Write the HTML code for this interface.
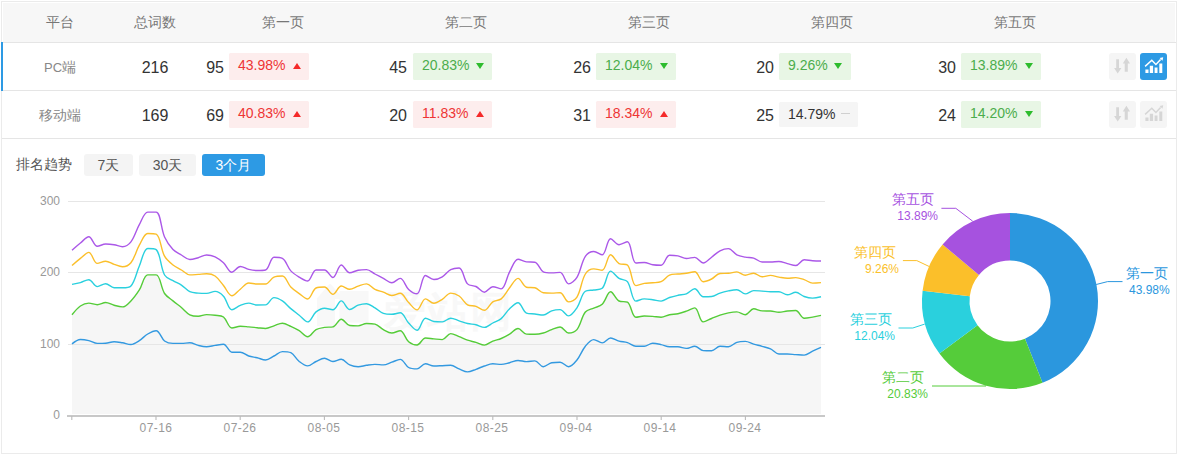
<!DOCTYPE html>
<html><head><meta charset="utf-8">
<style>
*{margin:0;padding:0;box-sizing:border-box}
html,body{width:1178px;height:454px;overflow:hidden;background:#fff;font-family:"Liberation Sans",sans-serif}
.abs{position:absolute}
#frame{position:absolute;left:1px;top:1px;width:1176px;height:453px;border:1px solid #ebebeb}
#hdr{position:absolute;left:3px;top:3px;width:1172px;height:39px;background:#f7f7f7}
.hl{position:absolute;left:2px;width:1174px;height:1px;background:#e5e5e5}
.ht{position:absolute;top:14px;font-size:14px;color:#777;line-height:16px;white-space:nowrap;transform:translateX(-50%)}
.pf{position:absolute;font-size:14px;color:#888;line-height:16px;white-space:nowrap;transform:translateX(-50%)}
.tot{position:absolute;font-size:16px;color:#333;line-height:20px;white-space:nowrap;transform:translateX(-50%)}
.num{position:absolute;font-size:16px;color:#333;line-height:20px;white-space:nowrap;text-align:right;width:40px}
.bd{position:absolute;height:27px;border-radius:1.5px;font-size:14px;line-height:24px;white-space:nowrap;padding-left:9px}
.bd.up{background:#fdeded;color:#ee3535}
.bd.dn{background:#e8f6e5;color:#4cad4c}
.bd.eq{background:#f5f5f5;color:#333}
.tri{position:absolute;top:10px;width:0;height:0;border-left:4.5px solid transparent;border-right:4.5px solid transparent}
.up .tri{border-bottom:6px solid #f52a2a}
.dn .tri{border-top:6px solid #2ebc2e}
.eq .tri{top:11px;width:9px;height:1.3px;background:#d0d0d0;border:0}
.ib{position:absolute;width:27px;height:27px;border-radius:3px;background:#f5f5f5}
.ib.on{background:#2d9ae4}
.tb{position:absolute;top:154px;height:22px;border-radius:3px;background:#f4f4f4;color:#555;font-size:14px;line-height:22px;text-align:center}
.tb.on{background:#2d9ae4;color:#fff}
.yl{position:absolute;font-size:12px;color:#999;line-height:14px;text-align:right;width:40px;left:20px}
.xl{position:absolute;top:421px;font-size:12px;color:#999;line-height:14px;white-space:nowrap;letter-spacing:0.45px;transform:translateX(-50%)}
.pl{position:absolute;font-size:14px;line-height:16px;white-space:nowrap}
.pp{position:absolute;font-size:12px;line-height:14px;white-space:nowrap}
</style></head><body>
<div id="frame"></div>
<div id="hdr"></div>
<div class="hl" style="top:42px"></div>
<div class="hl" style="top:90px"></div>
<div class="hl" style="top:138px"></div>
<div class="abs" style="left:1px;top:42px;width:2px;height:49px;background:#2d9ae4"></div>

<div class="ht" style="left:60px">平台</div>
<div class="ht" style="left:155px">总词数</div>
<div class="ht" style="left:283px">第一页</div>
<div class="ht" style="left:466px">第二页</div>
<div class="ht" style="left:649px">第三页</div>
<div class="ht" style="left:832px">第四页</div>
<div class="ht" style="left:1015px">第五页</div>

<!-- row 1 -->
<div class="pf" style="left:60px;top:59px"><span style="font-size:13px">PC</span>端</div>
<div class="tot" style="left:155px;top:58px">216</div>
<div class="num" style="left:184px;top:58px">95</div>
<div class="bd up" style="left:229px;top:53px;width:80px">43.98%<i class="tri" style="left:64px"></i></div>
<div class="num" style="left:367px;top:58px">45</div>
<div class="bd dn" style="left:413px;top:53px;width:79px">20.83%<i class="tri" style="left:63px"></i></div>
<div class="num" style="left:551px;top:58px">26</div>
<div class="bd dn" style="left:596px;top:53px;width:80px">12.04%<i class="tri" style="left:64px"></i></div>
<div class="num" style="left:734px;top:58px">20</div>
<div class="bd dn" style="left:779px;top:53px;width:72px">9.26%<i class="tri" style="left:55px"></i></div>
<div class="num" style="left:916px;top:58px">30</div>
<div class="bd dn" style="left:961px;top:53px;width:80px">13.89%<i class="tri" style="left:64px"></i></div>
<div class="ib" style="left:1109px;top:53px"><svg width="27" height="27" viewBox="1109 53 27 27" style="position:absolute;left:0;top:0"><path d="M1116.2,59.3H1119V68H1121.4L1117.7,73.5L1114.1,68H1116.2Z M1126.4,57.7L1130,63.5H1127.8V71.8H1124.7V63.5H1122.8Z" fill="#d6d6d6"/></svg></div>
<div class="ib on" style="left:1140px;top:53px"><svg width="27" height="27" viewBox="1140 53 27 27" style="position:absolute;left:0;top:0"><path d="M1145.4,69.6h3.1v3.5h-3.1Z M1149.8,65.7h3.3v7.4h-3.3Z M1154.6,67.6h2.9v5.5h-2.9Z M1159.3,63.5h3v9.6h-3Z" fill="#fff"/><path d="M1145.1,66.4L1151.8,60.3L1155.9,64.5L1160.6,59.4" fill="none" stroke="#fff" stroke-width="1.5"/><path d="M1163.2,57.2L1159.6,57.9L1162.5,60.8Z" fill="#fff"/></svg></div>

<!-- row 2 -->
<div class="pf" style="left:60px;top:107px">移动端</div>
<div class="tot" style="left:155px;top:106px">169</div>
<div class="num" style="left:184px;top:106px">69</div>
<div class="bd up" style="left:229px;top:101px;width:80px">40.83%<i class="tri" style="left:64px"></i></div>
<div class="num" style="left:367px;top:106px">20</div>
<div class="bd up" style="left:413px;top:101px;width:79px">11.83%<i class="tri" style="left:63px"></i></div>
<div class="num" style="left:551px;top:106px">31</div>
<div class="bd up" style="left:596px;top:101px;width:80px">18.34%<i class="tri" style="left:64px"></i></div>
<div class="num" style="left:734px;top:106px">25</div>
<div class="bd eq" style="left:779px;top:102px;width:79px;height:25px">14.79%<i class="tri" style="left:62px"></i></div>
<div class="num" style="left:916px;top:106px">24</div>
<div class="bd dn" style="left:961px;top:101px;width:80px">14.20%<i class="tri" style="left:64px"></i></div>
<div class="ib" style="left:1109px;top:101px"><svg width="27" height="27" viewBox="1109 53 27 27" style="position:absolute;left:0;top:0"><path d="M1116.2,59.3H1119V68H1121.4L1117.7,73.5L1114.1,68H1116.2Z M1126.4,57.7L1130,63.5H1127.8V71.8H1124.7V63.5H1122.8Z" fill="#d6d6d6"/></svg></div>
<div class="ib" style="left:1140px;top:101px"><svg width="27" height="27" viewBox="1140 53 27 27" style="position:absolute;left:0;top:0"><path d="M1145.4,69.6h3.1v3.5h-3.1Z M1149.8,65.7h3.3v7.4h-3.3Z M1154.6,67.6h2.9v5.5h-2.9Z M1159.3,63.5h3v9.6h-3Z" fill="#d6d6d6"/><path d="M1145.1,66.4L1151.8,60.3L1155.9,64.5L1160.6,59.4" fill="none" stroke="#d6d6d6" stroke-width="1.5"/><path d="M1163.2,57.2L1159.6,57.9L1162.5,60.8Z" fill="#d6d6d6"/></svg></div>

<!-- controls -->
<div class="abs" style="left:16px;top:156px;font-size:14px;line-height:16px;color:#555">排名趋势</div>
<div class="tb" style="left:84px;width:49px">7天</div>
<div class="tb" style="left:139px;width:57px">30天</div>
<div class="tb on" style="left:202px;width:63px">3个月</div>

<!-- CHART -->
<svg class="abs" style="left:0;top:0" width="1178" height="454" id="chart">
<path d="M72.00,314.80C72.00,314.80 77.01,308.37 80.42,306.00C82.90,304.27 85.83,303.10 88.83,303.10C91.72,303.10 94.32,304.70 97.25,304.70C100.22,304.70 102.75,302.50 105.66,302.50C108.64,302.50 111.08,304.52 114.08,305.30C116.97,306.06 119.82,306.90 122.49,306.90C125.72,306.90 128.39,303.44 130.91,300.90C134.28,297.49 136.70,293.96 139.33,289.90C142.59,284.86 143.79,274.90 147.74,274.90C149.68,274.90 154.44,274.90 156.16,274.90C160.33,274.90 160.77,287.62 164.57,293.50C166.66,296.72 169.97,298.39 172.99,300.90C175.87,303.29 178.52,305.12 181.40,307.50C184.41,309.98 186.49,313.06 189.82,314.80C192.38,316.14 195.30,316.30 198.24,316.30C201.19,316.30 203.68,314.60 206.65,314.60C209.57,314.60 212.15,314.78 215.07,315.20C218.04,315.62 221.23,315.28 223.48,317.00C227.12,319.76 228.26,328.00 231.90,328.00C234.15,328.00 237.34,326.30 240.31,326.30C243.23,326.30 245.79,326.66 248.73,326.90C251.68,327.15 254.20,327.42 257.15,327.70C260.09,327.98 262.68,328.50 265.56,328.50C268.57,328.50 271.03,326.73 273.98,325.80C276.92,324.87 279.47,323.20 282.39,323.20C285.37,323.20 287.95,325.03 290.81,326.30C293.84,327.65 296.41,328.95 299.22,330.70C302.30,332.62 304.79,336.80 307.64,336.80C310.68,336.80 312.76,331.44 316.06,329.60C318.65,328.15 321.48,327.88 324.47,327.40C327.37,326.93 330.38,327.40 332.89,326.90C336.28,326.22 338.24,319.20 341.30,319.20C344.13,319.20 346.45,325.00 349.72,325.50C352.34,325.90 355.25,325.90 358.13,325.90C361.14,325.90 363.55,323.50 366.55,323.50C369.44,323.50 372.28,323.50 374.97,324.10C378.17,324.81 380.29,327.96 383.38,329.60C386.18,331.08 388.79,333.00 391.80,333.00C394.68,333.00 397.94,330.70 400.21,330.70C403.84,330.70 405.05,338.76 408.63,341.80C410.94,343.76 414.39,345.00 417.04,345.00C420.28,345.00 422.14,338.00 425.46,338.00C428.03,338.00 430.93,338.62 433.88,338.90C436.82,339.18 439.64,339.60 442.29,339.60C445.53,339.60 447.55,333.60 450.71,333.60C453.44,333.60 456.20,335.55 459.12,336.70C462.09,337.86 464.53,339.18 467.54,340.20C470.42,341.17 473.03,341.55 475.96,342.40C478.92,343.26 481.50,345.10 484.37,345.10C487.39,345.10 489.76,342.29 492.79,341.10C495.65,339.98 498.37,339.68 501.20,338.50C504.26,337.23 506.76,335.80 509.62,334.10C512.66,332.30 515.09,328.50 518.03,328.50C520.98,328.50 523.24,333.86 526.45,334.10C529.13,334.30 531.94,334.30 534.87,334.30C537.83,334.30 540.43,333.80 543.28,333.00C546.32,332.15 548.71,330.67 551.70,329.60C554.60,328.57 557.40,327.00 560.11,327.00C563.29,327.00 565.39,333.00 568.53,333.00C571.28,333.00 575.07,331.93 576.94,329.60C580.96,324.58 581.37,317.10 585.36,312.00C587.26,309.58 590.82,309.45 593.78,308.10C596.71,306.76 599.96,306.47 602.19,304.30C605.85,300.73 607.38,291.70 610.61,291.70C613.27,291.70 615.51,299.23 619.02,301.00C621.40,302.20 625.49,301.00 627.44,302.20C631.38,304.63 631.91,317.20 635.85,317.20C637.80,317.20 641.31,316.00 644.27,316.00C647.20,316.00 649.74,316.19 652.69,316.40C655.64,316.61 658.21,317.20 661.10,317.20C664.10,317.20 666.52,315.32 669.52,314.70C672.41,314.10 675.04,314.30 677.93,313.70C680.93,313.08 683.45,312.20 686.35,311.20C689.34,310.17 692.67,307.90 694.76,307.90C698.56,307.90 699.39,321.90 703.18,321.90C705.28,321.90 708.64,319.67 711.60,318.50C714.53,317.33 717.01,316.20 720.01,315.20C722.90,314.24 725.44,313.49 728.43,312.90C731.33,312.33 733.96,311.90 736.84,311.90C739.86,311.90 742.53,314.70 745.26,314.70C748.42,314.70 750.48,308.80 753.67,308.80C756.37,308.80 759.10,310.80 762.09,310.90C764.99,311.00 767.58,310.90 770.51,311.00C773.47,311.10 775.98,312.30 778.92,312.30C781.87,312.30 784.38,311.32 787.34,311.00C790.27,310.69 793.25,310.50 795.75,310.50C799.14,310.50 800.79,318.20 804.17,318.20C806.68,318.20 809.66,317.59 812.58,317.10C815.55,316.61 821.00,315.40 821.00,315.40L821.0,414L72.0,414Z" fill="#f6f6f6"/>
<line x1="68" y1="344.5" x2="825" y2="344.5" stroke="#e6e6e6" stroke-width="1"/>
<line x1="68" y1="272.5" x2="825" y2="272.5" stroke="#e6e6e6" stroke-width="1"/>
<line x1="68" y1="201.5" x2="825" y2="201.5" stroke="#e6e6e6" stroke-width="1"/>
<g fill="#f8f8f8"><path d="M330,283.5L344,299H335V326H317V299H316.5Z"/><rect x="339.5" y="291" width="29" height="31.5"/><text x="384" y="326" font-size="42" font-weight="bold" font-family="Liberation Sans, sans-serif" textLength="128">爱站网</text></g>
<path d="M72.00,343.90C72.00,343.90 77.30,339.50 80.42,339.50C83.20,339.50 85.95,339.93 88.83,340.60C91.84,341.30 94.22,343.40 97.25,343.40C100.12,343.40 102.74,343.40 105.66,343.20C108.63,343.00 111.12,341.70 114.08,341.70C117.01,341.70 119.57,342.31 122.49,342.80C125.46,343.29 128.08,344.50 130.91,344.50C133.97,344.50 136.59,342.31 139.33,340.60C142.48,338.63 144.55,335.88 147.74,334.00C150.44,332.41 153.77,330.70 156.16,330.70C159.66,330.70 161.02,338.32 164.57,341.00C166.91,342.76 169.99,343.40 172.99,343.40C175.88,343.40 178.46,343.40 181.40,343.40C184.35,343.40 186.94,342.80 189.82,342.80C192.83,342.80 195.24,344.71 198.24,345.40C201.13,346.07 203.71,346.70 206.65,346.70C209.60,346.70 212.12,345.82 215.07,345.40C218.01,344.98 220.99,344.30 223.48,344.30C226.88,344.30 228.49,352.20 231.90,352.20C234.38,352.20 237.51,352.20 240.31,352.20C243.40,352.20 245.68,354.99 248.73,356.00C251.57,356.95 254.22,357.10 257.15,357.80C260.11,358.50 262.72,360.00 265.56,360.00C268.61,360.00 271.06,357.46 273.98,356.00C276.95,354.52 279.28,351.60 282.39,351.60C285.17,351.60 288.39,351.60 290.81,352.70C294.28,354.28 295.92,358.90 299.22,361.50C301.81,363.52 304.69,365.90 307.64,365.90C310.59,365.90 313.04,362.88 316.06,361.50C318.93,360.19 321.53,358.20 324.47,358.20C327.42,358.20 329.89,361.50 332.89,361.50C335.78,361.50 338.58,359.30 341.30,359.30C344.47,359.30 346.54,363.50 349.72,364.90C352.43,366.09 355.18,366.70 358.13,366.70C361.07,366.70 363.59,365.70 366.55,365.30C369.48,364.90 372.02,364.40 374.97,364.40C377.91,364.40 380.51,364.90 383.38,364.90C386.40,364.90 388.86,363.16 391.80,362.20C394.75,361.24 397.67,359.40 400.21,359.40C403.56,359.40 405.22,365.58 408.63,367.50C411.12,368.90 414.31,368.90 417.04,368.90C420.20,368.90 422.33,363.80 425.46,363.80C428.22,363.80 430.88,366.00 433.88,366.00C436.77,366.00 439.35,365.82 442.29,365.70C445.24,365.58 447.88,365.30 450.71,365.30C453.78,365.30 456.14,367.73 459.12,368.90C462.03,370.04 464.57,371.90 467.54,371.90C470.46,371.90 473.05,370.32 475.96,369.30C478.94,368.25 481.37,366.98 484.37,366.00C487.26,365.06 489.80,363.80 492.79,363.80C495.69,363.80 498.28,364.40 501.20,364.40C504.17,364.40 506.69,363.38 509.62,362.70C512.58,362.01 515.05,360.50 518.03,360.50C520.94,360.50 523.50,361.60 526.45,361.60C529.39,361.60 532.20,360.90 534.87,360.90C538.09,360.90 540.20,366.70 543.28,366.70C546.09,366.70 548.60,363.25 551.70,362.70C554.49,362.20 557.35,362.20 560.11,362.20C563.24,362.20 565.76,366.70 568.53,366.70C571.65,366.70 574.59,362.87 576.94,360.00C580.48,355.69 581.81,350.50 585.36,346.20C587.71,343.36 590.58,339.60 593.78,339.60C596.47,339.60 599.36,342.90 602.19,342.90C605.25,342.90 607.54,338.00 610.61,338.00C613.43,338.00 616.01,340.28 619.02,341.10C621.90,341.89 624.59,341.74 627.44,342.60C630.48,343.52 632.78,346.20 635.85,346.20C638.68,346.20 641.41,346.20 644.27,346.20C647.30,346.20 649.67,343.30 652.69,343.30C655.57,343.30 658.19,343.99 661.10,344.60C664.08,345.22 666.52,346.80 669.52,346.80C672.41,346.80 675.01,346.80 677.93,346.80C680.90,346.80 683.43,348.40 686.35,348.40C689.32,348.40 691.95,346.20 694.76,346.20C697.84,346.20 700.06,350.37 703.18,350.60C705.95,350.80 708.83,350.80 711.60,350.80C714.73,350.80 716.88,346.30 720.01,346.30C722.77,346.30 725.66,346.70 728.43,346.70C731.55,346.70 733.73,343.28 736.84,342.30C739.62,341.43 742.38,341.40 745.26,341.40C748.27,341.40 750.71,343.24 753.67,344.10C756.60,344.95 759.16,345.47 762.09,346.30C765.05,347.15 767.72,347.63 770.51,348.90C773.61,350.32 775.75,354.00 778.92,354.00C781.64,354.00 784.40,354.00 787.34,354.00C790.29,354.00 792.81,354.41 795.75,354.60C798.70,354.79 801.37,355.10 804.17,355.10C807.26,355.10 809.62,352.46 812.58,351.10C815.51,349.76 821.00,347.40 821.00,347.40" fill="none" stroke="#3399e0" stroke-width="1.4" stroke-linejoin="round"/>
<path d="M72.00,314.80C72.00,314.80 77.01,308.37 80.42,306.00C82.90,304.27 85.83,303.10 88.83,303.10C91.72,303.10 94.32,304.70 97.25,304.70C100.22,304.70 102.75,302.50 105.66,302.50C108.64,302.50 111.08,304.52 114.08,305.30C116.97,306.06 119.82,306.90 122.49,306.90C125.72,306.90 128.39,303.44 130.91,300.90C134.28,297.49 136.70,293.96 139.33,289.90C142.59,284.86 143.79,274.90 147.74,274.90C149.68,274.90 154.44,274.90 156.16,274.90C160.33,274.90 160.77,287.62 164.57,293.50C166.66,296.72 169.97,298.39 172.99,300.90C175.87,303.29 178.52,305.12 181.40,307.50C184.41,309.98 186.49,313.06 189.82,314.80C192.38,316.14 195.30,316.30 198.24,316.30C201.19,316.30 203.68,314.60 206.65,314.60C209.57,314.60 212.15,314.78 215.07,315.20C218.04,315.62 221.23,315.28 223.48,317.00C227.12,319.76 228.26,328.00 231.90,328.00C234.15,328.00 237.34,326.30 240.31,326.30C243.23,326.30 245.79,326.66 248.73,326.90C251.68,327.15 254.20,327.42 257.15,327.70C260.09,327.98 262.68,328.50 265.56,328.50C268.57,328.50 271.03,326.73 273.98,325.80C276.92,324.87 279.47,323.20 282.39,323.20C285.37,323.20 287.95,325.03 290.81,326.30C293.84,327.65 296.41,328.95 299.22,330.70C302.30,332.62 304.79,336.80 307.64,336.80C310.68,336.80 312.76,331.44 316.06,329.60C318.65,328.15 321.48,327.88 324.47,327.40C327.37,326.93 330.38,327.40 332.89,326.90C336.28,326.22 338.24,319.20 341.30,319.20C344.13,319.20 346.45,325.00 349.72,325.50C352.34,325.90 355.25,325.90 358.13,325.90C361.14,325.90 363.55,323.50 366.55,323.50C369.44,323.50 372.28,323.50 374.97,324.10C378.17,324.81 380.29,327.96 383.38,329.60C386.18,331.08 388.79,333.00 391.80,333.00C394.68,333.00 397.94,330.70 400.21,330.70C403.84,330.70 405.05,338.76 408.63,341.80C410.94,343.76 414.39,345.00 417.04,345.00C420.28,345.00 422.14,338.00 425.46,338.00C428.03,338.00 430.93,338.62 433.88,338.90C436.82,339.18 439.64,339.60 442.29,339.60C445.53,339.60 447.55,333.60 450.71,333.60C453.44,333.60 456.20,335.55 459.12,336.70C462.09,337.86 464.53,339.18 467.54,340.20C470.42,341.17 473.03,341.55 475.96,342.40C478.92,343.26 481.50,345.10 484.37,345.10C487.39,345.10 489.76,342.29 492.79,341.10C495.65,339.98 498.37,339.68 501.20,338.50C504.26,337.23 506.76,335.80 509.62,334.10C512.66,332.30 515.09,328.50 518.03,328.50C520.98,328.50 523.24,333.86 526.45,334.10C529.13,334.30 531.94,334.30 534.87,334.30C537.83,334.30 540.43,333.80 543.28,333.00C546.32,332.15 548.71,330.67 551.70,329.60C554.60,328.57 557.40,327.00 560.11,327.00C563.29,327.00 565.39,333.00 568.53,333.00C571.28,333.00 575.07,331.93 576.94,329.60C580.96,324.58 581.37,317.10 585.36,312.00C587.26,309.58 590.82,309.45 593.78,308.10C596.71,306.76 599.96,306.47 602.19,304.30C605.85,300.73 607.38,291.70 610.61,291.70C613.27,291.70 615.51,299.23 619.02,301.00C621.40,302.20 625.49,301.00 627.44,302.20C631.38,304.63 631.91,317.20 635.85,317.20C637.80,317.20 641.31,316.00 644.27,316.00C647.20,316.00 649.74,316.19 652.69,316.40C655.64,316.61 658.21,317.20 661.10,317.20C664.10,317.20 666.52,315.32 669.52,314.70C672.41,314.10 675.04,314.30 677.93,313.70C680.93,313.08 683.45,312.20 686.35,311.20C689.34,310.17 692.67,307.90 694.76,307.90C698.56,307.90 699.39,321.90 703.18,321.90C705.28,321.90 708.64,319.67 711.60,318.50C714.53,317.33 717.01,316.20 720.01,315.20C722.90,314.24 725.44,313.49 728.43,312.90C731.33,312.33 733.96,311.90 736.84,311.90C739.86,311.90 742.53,314.70 745.26,314.70C748.42,314.70 750.48,308.80 753.67,308.80C756.37,308.80 759.10,310.80 762.09,310.90C764.99,311.00 767.58,310.90 770.51,311.00C773.47,311.10 775.98,312.30 778.92,312.30C781.87,312.30 784.38,311.32 787.34,311.00C790.27,310.69 793.25,310.50 795.75,310.50C799.14,310.50 800.79,318.20 804.17,318.20C806.68,318.20 809.66,317.59 812.58,317.10C815.55,316.61 821.00,315.40 821.00,315.40" fill="none" stroke="#55cc39" stroke-width="1.4" stroke-linejoin="round"/>
<path d="M72.00,284.40C72.00,284.40 77.52,283.41 80.42,282.60C83.41,281.76 86.18,279.70 88.83,279.70C92.07,279.70 94.01,286.60 97.25,286.60C99.90,286.60 102.78,283.70 105.66,283.70C108.68,283.70 110.98,287.70 114.08,287.70C116.87,287.70 119.58,287.70 122.49,287.70C125.47,287.70 129.23,287.70 130.91,285.90C135.12,281.38 136.22,272.89 139.33,266.00C142.11,259.80 143.64,248.50 147.74,248.50C149.53,248.50 154.74,248.50 156.16,249.60C160.63,253.07 160.30,267.11 164.57,275.00C166.19,278.00 169.94,278.87 172.99,280.70C175.83,282.41 178.63,283.29 181.40,285.10C184.52,287.14 186.54,290.14 189.82,291.70C192.43,292.94 195.27,292.80 198.24,293.10C201.16,293.40 203.75,293.40 206.65,293.40C209.64,293.40 212.29,291.40 215.07,291.40C218.18,291.40 221.25,293.78 223.48,296.20C227.14,300.18 228.21,309.70 231.90,309.70C234.10,309.70 237.24,306.51 240.31,305.30C243.13,304.20 245.77,303.10 248.73,303.10C251.66,303.10 254.16,305.00 257.15,305.00C260.06,305.00 263.03,305.00 265.56,304.90C268.92,304.77 270.73,297.60 273.98,297.60C276.62,297.60 279.79,299.20 282.39,300.90C285.68,303.05 287.77,306.02 290.81,308.60C293.66,311.02 296.29,312.88 299.22,315.20C302.18,317.53 304.98,321.90 307.64,321.90C310.87,321.90 312.60,314.71 316.06,311.90C318.49,309.92 321.42,308.20 324.47,308.20C327.31,308.20 330.46,309.70 332.89,309.70C336.35,309.70 338.34,300.90 341.30,300.90C344.23,300.90 346.42,309.50 349.72,309.50C352.31,309.50 355.04,306.27 358.13,305.20C360.93,304.24 363.75,303.70 366.55,303.70C369.64,303.70 372.12,306.26 374.97,307.90C378.01,309.65 380.18,312.33 383.38,313.40C386.07,314.30 388.87,314.30 391.80,314.30C394.76,314.30 397.90,312.80 400.21,312.80C403.79,312.80 405.43,319.68 408.63,323.00C411.32,325.80 414.51,330.30 417.04,330.30C420.40,330.30 421.81,318.20 425.46,318.20C427.70,318.20 430.83,321.07 433.88,321.50C436.72,321.90 439.48,321.90 442.29,321.90C445.37,321.90 447.70,318.20 450.71,318.20C453.59,318.20 456.18,319.87 459.12,320.80C462.07,321.73 464.54,322.79 467.54,323.50C470.43,324.19 473.06,324.13 475.96,324.80C478.95,325.49 481.54,327.40 484.37,327.40C487.43,327.40 489.84,324.54 492.79,323.00C495.73,321.46 498.71,320.71 501.20,318.60C504.61,315.71 506.33,311.79 509.62,308.70C512.22,306.26 515.47,302.80 518.03,302.80C521.36,302.80 522.85,311.69 526.45,313.10C528.74,314.00 531.92,313.67 534.87,314.00C537.81,314.33 540.49,315.00 543.28,315.00C546.38,315.00 548.60,311.79 551.70,310.80C554.49,309.90 557.48,309.60 560.11,309.60C563.37,309.60 565.74,315.90 568.53,315.90C571.63,315.90 574.67,311.13 576.94,307.80C580.56,302.52 581.32,294.13 585.36,291.30C587.21,290.00 590.84,290.52 593.78,290.00C596.73,289.47 600.37,290.00 602.19,288.30C606.26,284.51 606.88,271.10 610.61,271.10C612.77,271.10 615.77,276.35 619.02,278.40C621.66,280.06 625.67,279.32 627.44,281.70C631.57,287.27 631.68,301.10 635.85,301.10C637.57,301.10 641.28,298.90 644.27,298.90C647.17,298.90 649.75,299.32 652.69,299.70C655.64,300.09 658.26,301.10 661.10,301.10C664.15,301.10 666.50,298.54 669.52,297.50C672.39,296.51 674.96,295.95 677.93,295.30C680.85,294.66 683.61,294.87 686.35,293.80C689.50,292.56 692.06,288.70 694.76,288.70C697.95,288.70 699.76,296.70 703.18,296.70C705.66,296.70 708.76,296.70 711.60,296.50C714.65,296.28 717.00,294.10 720.01,293.10C722.89,292.14 725.45,291.50 728.43,290.90C731.34,290.31 734.05,289.70 736.84,289.70C739.94,289.70 742.25,293.90 745.26,293.90C748.15,293.90 750.63,290.60 753.67,290.60C756.52,290.60 759.15,290.91 762.09,291.10C765.04,291.29 767.56,291.70 770.51,291.70C773.45,291.70 776.07,291.70 778.92,291.70C781.96,291.70 784.36,294.80 787.34,294.80C790.25,294.80 792.91,292.30 795.75,292.30C798.80,292.30 801.09,295.44 804.17,296.50C806.98,297.47 809.63,298.10 812.58,298.10C815.52,298.10 821.00,296.70 821.00,296.70" fill="none" stroke="#2ad0de" stroke-width="1.4" stroke-linejoin="round"/>
<path d="M72.00,265.60C72.00,265.60 77.37,260.79 80.42,258.40C83.26,256.17 86.31,252.40 88.83,252.40C92.20,252.40 93.63,263.40 97.25,263.40C99.52,263.40 102.76,261.20 105.66,261.20C108.65,261.20 111.10,263.33 114.08,264.30C116.99,265.25 119.63,266.70 122.49,266.70C125.53,266.70 129.01,265.22 130.91,262.80C134.90,257.70 135.94,251.10 139.33,245.20C141.83,240.84 144.03,233.50 147.74,233.50C149.92,233.50 154.61,233.50 156.16,234.10C160.50,235.78 160.68,249.06 164.57,256.20C166.58,259.88 169.72,262.32 172.99,265.00C175.61,267.15 178.45,268.26 181.40,270.00C184.34,271.73 186.66,274.90 189.82,274.90C192.55,274.90 195.29,274.59 198.24,274.40C201.18,274.21 203.75,273.80 206.65,273.80C209.64,273.80 212.67,274.33 215.07,276.00C218.56,278.43 220.61,282.12 223.48,285.50C226.50,289.05 228.63,295.80 231.90,295.80C234.52,295.80 237.34,291.47 240.31,289.20C243.23,286.99 245.48,283.00 248.73,283.00C251.37,283.00 254.19,284.00 257.15,284.00C260.08,284.00 262.99,284.00 265.56,284.00C268.88,284.00 270.67,278.51 273.98,277.10C276.56,276.00 280.15,276.00 282.39,276.00C286.05,276.00 287.48,283.52 290.81,287.00C293.38,289.68 296.18,291.43 299.22,293.60C302.07,295.63 305.17,299.00 307.64,299.00C311.06,299.00 312.40,289.63 316.06,288.00C318.29,287.00 321.93,287.00 324.47,287.00C327.82,287.00 330.03,294.30 332.89,294.30C335.92,294.30 337.97,286.00 341.30,286.00C343.86,286.00 346.77,289.30 349.72,289.30C352.66,289.30 355.14,287.06 358.13,286.10C361.03,285.17 363.82,283.90 366.55,283.90C369.71,283.90 371.84,287.86 374.97,289.40C377.73,290.76 380.46,291.14 383.38,292.20C386.36,293.28 388.80,295.50 391.80,295.50C394.69,295.50 397.80,293.30 400.21,293.30C403.69,293.30 405.51,299.52 408.63,302.60C411.40,305.33 414.42,309.90 417.04,309.90C420.31,309.90 421.97,298.90 425.46,298.90C427.86,298.90 430.90,303.30 433.88,303.30C436.79,303.30 439.52,300.98 442.29,299.30C445.41,297.41 447.53,293.10 450.71,293.10C453.42,293.10 456.64,294.27 459.12,296.00C462.53,298.37 464.08,302.68 467.54,304.80C469.97,306.29 473.14,305.38 475.96,306.30C479.03,307.30 481.78,310.30 484.37,310.30C487.67,310.30 489.42,304.18 492.79,301.90C495.31,300.19 498.90,300.83 501.20,298.90C504.79,295.89 506.53,291.56 509.62,287.80C512.42,284.39 515.04,278.40 518.03,278.40C520.93,278.40 522.97,286.33 526.45,287.20C528.86,287.80 532.13,287.20 534.87,287.80C538.02,288.49 540.12,292.24 543.28,292.70C546.01,293.10 548.75,293.10 551.70,293.10C554.64,293.10 557.74,292.70 560.11,292.70C563.63,292.70 565.21,301.90 568.53,301.90C571.10,301.90 575.28,299.86 576.94,297.10C581.17,290.10 581.15,281.05 585.36,274.00C587.04,271.18 590.62,268.90 593.78,268.90C596.51,268.90 600.27,270.20 602.19,270.20C606.16,270.20 607.13,254.80 610.61,254.80C613.02,254.80 615.56,261.60 619.02,263.60C621.45,265.00 625.81,263.60 627.44,265.00C631.70,268.65 631.62,285.60 635.85,285.60C637.51,285.60 641.28,283.90 644.27,283.40C647.17,282.92 649.75,283.10 652.69,282.80C655.64,282.50 658.49,282.80 661.10,281.70C664.39,280.31 666.23,276.49 669.52,275.10C672.12,274.00 674.98,274.32 677.93,274.00C680.87,273.69 683.42,273.68 686.35,273.30C689.31,272.91 692.43,271.80 694.76,271.80C698.32,271.80 699.67,281.70 703.18,281.70C705.56,281.70 708.84,280.34 711.60,279.00C714.73,277.47 716.80,273.74 720.01,273.50C722.70,273.30 725.50,273.50 728.43,273.30C731.39,273.10 733.98,271.90 736.84,271.90C739.87,271.90 742.25,275.20 745.26,275.20C748.14,275.20 750.81,273.20 753.67,273.20C756.70,273.20 759.04,276.80 762.09,276.80C764.93,276.80 767.57,275.40 770.51,275.40C773.46,275.40 775.96,276.59 778.92,277.10C781.85,277.60 784.38,278.30 787.34,278.30C790.27,278.30 792.84,277.60 795.75,277.60C798.73,277.60 801.30,278.66 804.17,279.60C807.19,280.59 809.52,283.10 812.58,283.10C815.41,283.10 821.00,282.60 821.00,282.60" fill="none" stroke="#fbbf2a" stroke-width="1.4" stroke-linejoin="round"/>
<path d="M72.00,250.20C72.00,250.20 77.39,245.41 80.42,243.00C83.28,240.72 86.17,236.80 88.83,236.80C92.06,236.80 93.76,246.30 97.25,246.30C99.65,246.30 102.67,244.00 105.66,244.00C108.56,244.00 111.17,244.23 114.08,244.70C117.06,245.18 119.72,246.70 122.49,246.70C125.61,246.70 128.93,244.49 130.91,241.90C134.82,236.79 136.04,230.52 139.33,224.70C141.93,220.09 143.95,212.10 147.74,212.10C149.85,212.10 154.73,212.10 156.16,212.10C160.62,212.10 160.84,228.67 164.57,237.00C166.73,241.80 169.44,245.80 172.99,249.60C175.33,252.10 178.39,253.23 181.40,255.00C184.28,256.69 186.72,259.50 189.82,259.50C192.61,259.50 195.33,258.48 198.24,257.70C201.22,256.90 203.67,255.00 206.65,255.00C209.56,255.00 212.39,255.56 215.07,256.80C218.28,258.29 220.83,260.37 223.48,262.80C226.72,265.76 228.64,272.20 231.90,272.20C234.53,272.20 237.17,266.50 240.31,266.50C243.06,266.50 245.71,268.68 248.73,269.40C251.61,270.08 254.19,270.50 257.15,270.50C260.08,270.50 263.46,270.50 265.56,270.00C269.35,269.10 270.19,257.30 273.98,257.30C276.09,257.30 280.27,257.30 282.39,258.40C286.16,260.35 287.33,267.04 290.81,270.90C293.22,273.58 296.10,275.23 299.22,277.10C301.99,278.76 305.28,281.00 307.64,281.00C311.17,281.00 312.39,270.00 316.06,270.00C318.28,270.00 321.95,270.00 324.47,270.00C327.84,270.00 330.37,277.50 332.89,277.50C336.26,277.50 337.96,265.00 341.30,265.00C343.85,265.00 346.39,272.80 349.72,272.80C352.28,272.80 355.13,270.77 358.13,270.20C361.02,269.65 363.78,269.60 366.55,269.60C369.67,269.60 372.02,272.46 374.97,274.00C377.91,275.54 380.44,276.86 383.38,278.40C386.33,279.94 388.85,282.80 391.80,282.80C394.74,282.80 397.82,278.40 400.21,278.40C403.71,278.40 405.13,286.20 408.63,289.40C411.03,291.59 415.16,293.80 417.04,293.80C421.05,293.80 421.43,275.50 425.46,275.50C427.32,275.50 430.85,279.50 433.88,279.50C436.74,279.50 439.68,278.34 442.29,276.80C445.57,274.87 447.39,271.34 450.71,269.60C453.28,268.26 457.22,268.00 459.12,268.00C463.11,268.00 463.58,279.55 467.54,283.90C469.48,286.03 473.22,285.15 475.96,286.50C479.11,288.06 481.41,292.20 484.37,292.20C487.30,292.20 489.63,286.70 492.79,286.70C495.52,286.70 499.36,288.90 501.20,288.90C505.25,288.90 506.34,277.59 509.62,271.80C512.23,267.20 514.31,259.20 518.03,259.20C520.20,259.20 523.43,261.59 526.45,261.90C529.32,262.20 532.52,261.90 534.87,262.20C538.41,262.65 539.74,270.15 543.28,271.80C545.63,272.90 548.74,272.90 551.70,272.90C554.63,272.90 557.92,272.40 560.11,272.40C563.81,272.40 565.16,283.90 568.53,283.90C571.05,283.90 575.05,280.40 576.94,277.30C580.94,270.74 581.23,262.62 585.36,256.30C587.13,253.59 590.73,251.50 593.78,251.50C596.62,251.50 600.23,254.80 602.19,254.80C606.12,254.80 606.85,238.70 610.61,238.70C612.74,238.70 615.86,244.70 619.02,244.70C621.75,244.70 625.78,241.80 627.44,241.80C631.68,241.80 631.55,263.00 635.85,263.00C637.44,263.00 641.37,262.50 644.27,262.50C647.26,262.50 649.69,264.22 652.69,264.70C655.58,265.17 658.79,265.20 661.10,265.20C664.68,265.20 665.94,255.20 669.52,255.20C671.83,255.20 675.05,255.33 677.93,255.90C680.94,256.49 683.35,258.50 686.35,258.50C689.24,258.50 692.08,257.40 694.76,257.40C697.97,257.40 700.25,263.00 703.18,263.00C706.14,263.00 708.70,259.30 711.60,257.20C714.59,255.03 716.78,252.45 720.01,250.80C722.67,249.44 725.75,248.60 728.43,248.60C731.64,248.60 733.63,253.18 736.84,254.80C739.52,256.15 742.27,256.51 745.26,257.10C748.16,257.67 750.86,257.28 753.67,258.10C756.75,259.00 759.00,262.00 762.09,262.00C764.89,262.00 767.56,262.00 770.51,262.00C773.45,262.00 776.02,261.50 778.92,261.50C781.91,261.50 784.38,262.90 787.34,263.60C790.27,264.30 793.05,265.50 795.75,265.50C798.94,265.50 800.96,259.80 804.17,259.80C806.85,259.80 809.63,260.60 812.58,260.80C815.52,261.00 821.00,261.00 821.00,261.00" fill="none" stroke="#ab58e8" stroke-width="1.4" stroke-linejoin="round"/>
<line x1="67" y1="416" x2="825" y2="416" stroke="#c8c8c8" stroke-width="2"/>
<line x1="71.8" y1="416" x2="71.8" y2="420" stroke="#bbbbbb" stroke-width="1.1"/>
<line x1="156.0" y1="416" x2="156.0" y2="420" stroke="#bbbbbb" stroke-width="1.1"/>
<line x1="240.2" y1="416" x2="240.2" y2="420" stroke="#bbbbbb" stroke-width="1.1"/>
<line x1="324.4" y1="416" x2="324.4" y2="420" stroke="#bbbbbb" stroke-width="1.1"/>
<line x1="408.6" y1="416" x2="408.6" y2="420" stroke="#bbbbbb" stroke-width="1.1"/>
<line x1="492.8" y1="416" x2="492.8" y2="420" stroke="#bbbbbb" stroke-width="1.1"/>
<line x1="577.0" y1="416" x2="577.0" y2="420" stroke="#bbbbbb" stroke-width="1.1"/>
<line x1="661.2" y1="416" x2="661.2" y2="420" stroke="#bbbbbb" stroke-width="1.1"/>
<line x1="745.4" y1="416" x2="745.4" y2="420" stroke="#bbbbbb" stroke-width="1.1"/>
<path d="M1010.00,213.00A88.0,88.0 0 0 1 1042.50,382.78L1024.96,338.64A40.5,40.5 0 0 0 1010.00,260.50Z" fill="#2b97de"/>
<path d="M1042.50,382.78A88.0,88.0 0 0 1 939.43,353.57L977.52,325.19A40.5,40.5 0 0 0 1024.96,338.64Z" fill="#55cc3a"/>
<path d="M939.43,353.57A88.0,88.0 0 0 1 922.59,290.79L969.77,296.30A40.5,40.5 0 0 0 977.52,325.19Z" fill="#2ad0dd"/>
<path d="M922.59,290.79A88.0,88.0 0 0 1 942.58,244.44L978.97,274.97A40.5,40.5 0 0 0 969.77,296.30Z" fill="#fbbf2a"/>
<path d="M942.58,244.44A88.0,88.0 0 0 1 1010.00,213.00L1010.00,260.50A40.5,40.5 0 0 0 978.97,274.97Z" fill="#a652df"/>
<path d="M1096.2,284.5 L1107.6,281.6 L1122.5,281.6" fill="none" stroke="#2b97de" stroke-width="1"/>
<path d="M986,386 L932,386" fill="none" stroke="#55cc3a" stroke-width="1"/>
<path d="M924.7,324.1 L912.8,328 L898.5,328" fill="none" stroke="#2ad0dd" stroke-width="1"/>
<path d="M929.2,266.5 L916.8,260.6 L902.9,260.6" fill="none" stroke="#fbbf2a" stroke-width="1"/>
<path d="M972.7,221.2 L955.8,208.3 L941.4,208.3" fill="none" stroke="#a652df" stroke-width="1"/>
</svg>


<!-- axis labels -->
<div class="yl" style="top:194px">300</div>
<div class="yl" style="top:265px">200</div>
<div class="yl" style="top:337px">100</div>
<div class="yl" style="top:408px">0</div>
<div class="xl" style="left:156px">07-16</div>
<div class="xl" style="left:240px">07-26</div>
<div class="xl" style="left:324px">08-05</div>
<div class="xl" style="left:408px">08-15</div>
<div class="xl" style="left:492px">08-25</div>
<div class="xl" style="left:576px">09-04</div>
<div class="xl" style="left:660px">09-14</div>
<div class="xl" style="left:745px">09-24</div>
<!-- pie labels -->
<div class="pl" style="left:1126px;top:265px;color:#2b97de">第一页</div>
<div class="pp" style="left:1129px;top:283px;color:#2b97de">43.98%</div>
<div class="pl" style="right:254px;top:369px;color:#55cc3a;text-align:right">第二页</div>
<div class="pp" style="right:250px;top:387px;color:#55cc3a">20.83%</div>
<div class="pl" style="right:286px;top:311px;color:#2ad0dd">第三页</div>
<div class="pp" style="right:283px;top:329px;color:#2ad0dd">12.04%</div>
<div class="pl" style="right:282px;top:244px;color:#fbbf2a">第四页</div>
<div class="pp" style="right:279px;top:262px;color:#fbbf2a">9.26%</div>
<div class="pl" style="right:244px;top:191px;color:#a652df">第五页</div>
<div class="pp" style="right:240px;top:209px;color:#a652df">13.89%</div>
</body></html>
